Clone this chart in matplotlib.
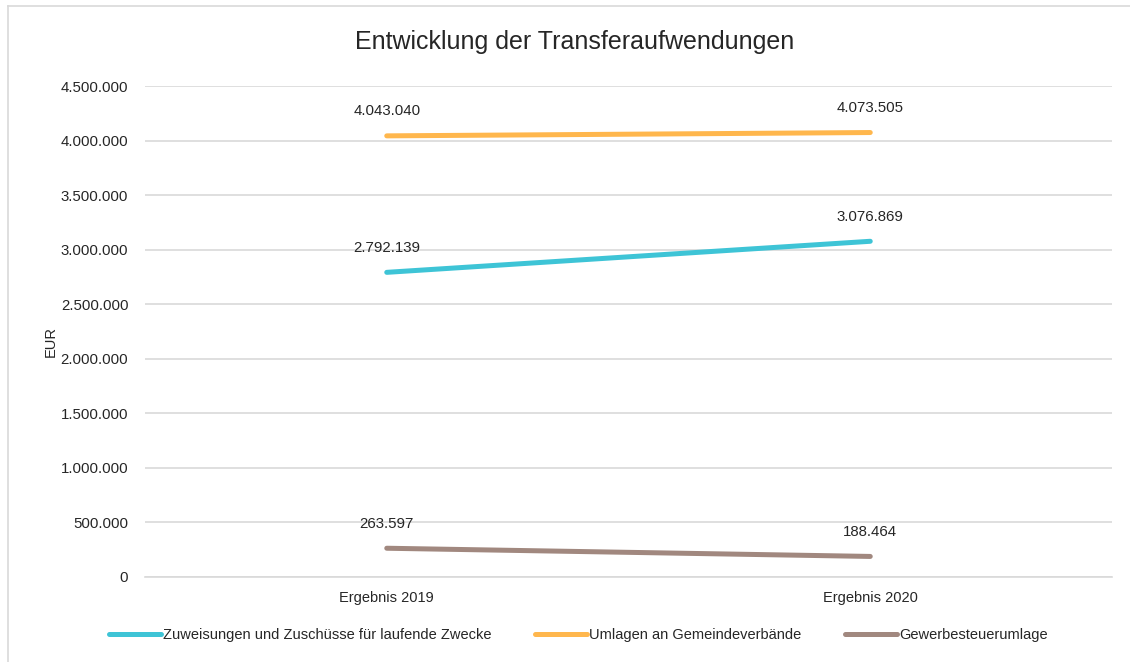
import matplotlib
matplotlib.use("Agg")
import matplotlib.pyplot as plt
from matplotlib.lines import Line2D

plt.rcParams['font.family'] = ['Liberation Sans', 'DejaVu Sans']

categories = ["Ergebnis 2019", "Ergebnis 2020"]
series_names = ["Zuweisungen und Zuschüsse für laufende Zwecke",
                "Umlagen an Gemeindeverbände",
                "Gewerbesteuerumlage"]
zuweisungen = [2792139, 3076869]
umlagen = [4043040, 4073505]
gewerbe = [263597, 188464]
colors = ["#3EC4D6", "#FFB74D", "#A1887F"]
yticks = [0, 500000, 1000000, 1500000, 2000000, 2500000, 3000000, 3500000, 4000000, 4500000]

def fmt(v):
    return f"{v:,}".replace(",", ".")

fig = plt.figure(figsize=(11.3, 6.62), dpi=100)
ax = fig.add_axes([145/1130, 1-577/662, (1112-145)/1130, (577-86)/662])

x = list(range(len(categories)))
for vals, c, name in zip([zuweisungen, umlagen, gewerbe], colors, series_names):
    ax.plot(x, vals, color=c, lw=3.6, solid_capstyle='round', label=name, zorder=3)
    for xi, v in zip(x, vals):
        ax.annotate(fmt(v), (xi, v), xytext=(0, 12.5), textcoords='offset points',
                    ha='center', va='bottom', fontsize=10.8, color='#262626')

ax.set_xlim(-0.5, 1.5)
ax.set_ylim(0, 4500000)
ax.set_yticks(yticks)
ax.set_yticklabels([fmt(t) for t in yticks], fontsize=10.8, color='#262626')
ax.set_xticks(x)
ax.set_xticklabels(categories, fontsize=10.5, color='#262626')
ax.tick_params(length=0, pad=12)
ax.tick_params(axis='x', pad=10)
ax.grid(axis='y', color='#D9D9D9', lw=1.2, zorder=0)
for s in ['top', 'right', 'left']:
    ax.spines[s].set_visible(False)
ax.spines['bottom'].set_color('#D9D9D9')
ax.spines['bottom'].set_linewidth(1.2)
ax.set_axisbelow(True)
ax.set_ylabel("EUR", fontsize=10.5, color='#262626')
ax.yaxis.set_label_coords(-0.09, 0.48)

fig.text(575/1130, 1-42/662, "Entwicklung der Transferaufwendungen", ha='center', va='center',
         fontsize=18, color='#262626')

handles = [Line2D([0], [0], color=c, lw=3.6, solid_capstyle='round') for c in colors]
fig.legend(handles, series_names, loc='center', bbox_to_anchor=(578/1130, 1-635/662), ncol=3,
           frameon=False, fontsize=10.5, handlelength=3.6, handletextpad=0.1, columnspacing=3.0,
           labelcolor='#262626')

fig.add_artist(Line2D([8/1130, 1], [1-6/662, 1-6/662], transform=fig.transFigure,
                      color='#D9D9D9', lw=1.2))
fig.add_artist(Line2D([8/1130, 8/1130], [0, 1-6/662], transform=fig.transFigure,
                      color='#D9D9D9', lw=1.2))

fig.savefig("out.png", dpi=100)
